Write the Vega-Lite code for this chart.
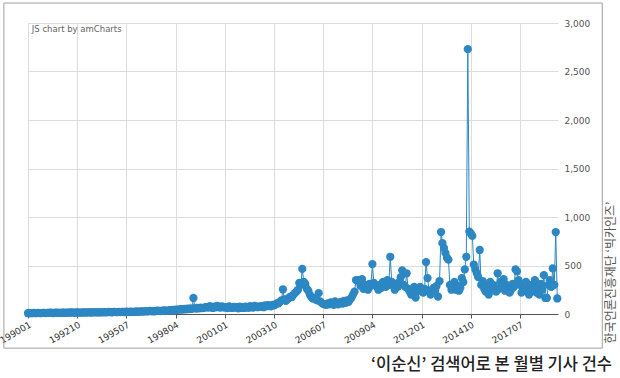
{
"$schema": "https://vega.github.io/schema/vega-lite/v6.json",
"width": 530, "height": 291,
"autosize": {"type": "none"},
"padding": {"left": 28, "top": 23, "right": 62, "bottom": 64},
"background": "white",
"config": {"view": {"stroke": null}, "font": "DejaVu Sans"},
"title": {"text": "‘이순신’ 검색어로 본 월별 기사 건수", "orient": "bottom", "anchor": "end", "frame": "group", "font": "Noto Sans CJK KR", "fontSize": 16.5, "fontWeight": 500, "color": "#222", "dx": 54, "offset": 8},
"datasets": {"d": [
{"m":"1990-01","v":8},{"m":"1990-02","v":9},{"m":"1990-03","v":10},{"m":"1990-04","v":8},{"m":"1990-05","v":11},{"m":"1990-06","v":9},{"m":"1990-07","v":10},{"m":"1990-08","v":12},{"m":"1990-09","v":9},{"m":"1990-10","v":10},{"m":"1990-11","v":11},{"m":"1990-12","v":12},
{"m":"1991-01","v":10},{"m":"1991-02","v":12},{"m":"1991-03","v":11},{"m":"1991-04","v":13},{"m":"1991-05","v":12},{"m":"1991-06","v":10},{"m":"1991-07","v":14},{"m":"1991-08","v":12},{"m":"1991-09","v":13},{"m":"1991-10","v":11},{"m":"1991-11","v":12},{"m":"1991-12","v":14},
{"m":"1992-01","v":13},{"m":"1992-02","v":12},{"m":"1992-03","v":15},{"m":"1992-04","v":14},{"m":"1992-05","v":13},{"m":"1992-06","v":16},{"m":"1992-07","v":14},{"m":"1992-08","v":15},{"m":"1992-09","v":13},{"m":"1992-10","v":17},{"m":"1992-11","v":15},{"m":"1992-12","v":14},
{"m":"1993-01","v":15},{"m":"1993-02","v":17},{"m":"1993-03","v":16},{"m":"1993-04","v":14},{"m":"1993-05","v":18},{"m":"1993-06","v":16},{"m":"1993-07","v":17},{"m":"1993-08","v":15},{"m":"1993-09","v":19},{"m":"1993-10","v":17},{"m":"1993-11","v":16},{"m":"1993-12","v":18},
{"m":"1994-01","v":18},{"m":"1994-02","v":16},{"m":"1994-03","v":19},{"m":"1994-04","v":17},{"m":"1994-05","v":20},{"m":"1994-06","v":18},{"m":"1994-07","v":21},{"m":"1994-08","v":19},{"m":"1994-09","v":17},{"m":"1994-10","v":20},{"m":"1994-11","v":22},{"m":"1994-12","v":19},
{"m":"1995-01","v":20},{"m":"1995-02","v":22},{"m":"1995-03","v":19},{"m":"1995-04","v":21},{"m":"1995-05","v":23},{"m":"1995-06","v":20},{"m":"1995-07","v":24},{"m":"1995-08","v":22},{"m":"1995-09","v":21},{"m":"1995-10","v":25},{"m":"1995-11","v":23},{"m":"1995-12","v":22},
{"m":"1996-01","v":24},{"m":"1996-02","v":26},{"m":"1996-03","v":23},{"m":"1996-04","v":25},{"m":"1996-05","v":28},{"m":"1996-06","v":24},{"m":"1996-07","v":27},{"m":"1996-08","v":30},{"m":"1996-09","v":26},{"m":"1996-10","v":29},{"m":"1996-11","v":31},{"m":"1996-12","v":27},
{"m":"1997-01","v":30},{"m":"1997-02","v":28},{"m":"1997-03","v":33},{"m":"1997-04","v":35},{"m":"1997-05","v":31},{"m":"1997-06","v":29},{"m":"1997-07","v":36},{"m":"1997-08","v":34},{"m":"1997-09","v":38},{"m":"1997-10","v":32},{"m":"1997-11","v":35},{"m":"1997-12","v":40},
{"m":"1998-01","v":38},{"m":"1998-02","v":42},{"m":"1998-03","v":36},{"m":"1998-04","v":45},{"m":"1998-05","v":40},{"m":"1998-06","v":48},{"m":"1998-07","v":44},{"m":"1998-08","v":50},{"m":"1998-09","v":46},{"m":"1998-10","v":52},{"m":"1998-11","v":48},{"m":"1998-12","v":55},
{"m":"1999-01","v":50},{"m":"1999-02","v":58},{"m":"1999-03","v":52},{"m":"1999-04","v":165},{"m":"1999-05","v":60},{"m":"1999-06","v":55},{"m":"1999-07","v":62},{"m":"1999-08","v":58},{"m":"1999-09","v":66},{"m":"1999-10","v":60},{"m":"1999-11","v":64},{"m":"1999-12","v":70},
{"m":"2000-01","v":72},{"m":"2000-02","v":65},{"m":"2000-03","v":80},{"m":"2000-04","v":70},{"m":"2000-05","v":62},{"m":"2000-06","v":75},{"m":"2000-07","v":68},{"m":"2000-08","v":85},{"m":"2000-09","v":72},{"m":"2000-10","v":66},{"m":"2000-11","v":78},{"m":"2000-12","v":70},
{"m":"2001-01","v":65},{"m":"2001-02","v":72},{"m":"2001-03","v":60},{"m":"2001-04","v":78},{"m":"2001-05","v":68},{"m":"2001-06","v":62},{"m":"2001-07","v":74},{"m":"2001-08","v":66},{"m":"2001-09","v":70},{"m":"2001-10","v":58},{"m":"2001-11","v":76},{"m":"2001-12","v":64},
{"m":"2002-01","v":68},{"m":"2002-02","v":62},{"m":"2002-03","v":75},{"m":"2002-04","v":70},{"m":"2002-05","v":64},{"m":"2002-06","v":80},{"m":"2002-07","v":72},{"m":"2002-08","v":66},{"m":"2002-09","v":85},{"m":"2002-10","v":74},{"m":"2002-11","v":70},{"m":"2002-12","v":78},
{"m":"2003-01","v":76},{"m":"2003-02","v":82},{"m":"2003-03","v":70},{"m":"2003-04","v":88},{"m":"2003-05","v":80},{"m":"2003-06","v":92},{"m":"2003-07","v":85},{"m":"2003-08","v":78},{"m":"2003-09","v":95},{"m":"2003-10","v":90},{"m":"2003-11","v":100},{"m":"2003-12","v":110},
{"m":"2004-01","v":110},{"m":"2004-02","v":125},{"m":"2004-03","v":140},{"m":"2004-04","v":255},{"m":"2004-05","v":150},{"m":"2004-06","v":135},{"m":"2004-07","v":155},{"m":"2004-08","v":165},{"m":"2004-09","v":180},{"m":"2004-10","v":175},{"m":"2004-11","v":200},{"m":"2004-12","v":215},
{"m":"2005-01","v":230},{"m":"2005-02","v":250},{"m":"2005-03","v":320},{"m":"2005-04","v":300},{"m":"2005-05","v":465},{"m":"2005-06","v":330},{"m":"2005-07","v":310},{"m":"2005-08","v":260},{"m":"2005-09","v":240},{"m":"2005-10","v":200},{"m":"2005-11","v":175},{"m":"2005-12","v":160},
{"m":"2006-01","v":160},{"m":"2006-02","v":150},{"m":"2006-03","v":140},{"m":"2006-04","v":215},{"m":"2006-05","v":130},{"m":"2006-06","v":115},{"m":"2006-07","v":105},{"m":"2006-08","v":100},{"m":"2006-09","v":95},{"m":"2006-10","v":110},{"m":"2006-11","v":100},{"m":"2006-12","v":120},
{"m":"2007-01","v":105},{"m":"2007-02","v":95},{"m":"2007-03","v":130},{"m":"2007-04","v":110},{"m":"2007-05","v":100},{"m":"2007-06","v":118},{"m":"2007-07","v":125},{"m":"2007-08","v":108},{"m":"2007-09","v":135},{"m":"2007-10","v":115},{"m":"2007-11","v":140},{"m":"2007-12","v":125},
{"m":"2008-01","v":150},{"m":"2008-02","v":170},{"m":"2008-03","v":200},{"m":"2008-04","v":230},{"m":"2008-05","v":350},{"m":"2008-06","v":345},{"m":"2008-07","v":350},{"m":"2008-08","v":290},{"m":"2008-09","v":360},{"m":"2008-10","v":260},{"m":"2008-11","v":300},{"m":"2008-12","v":280},
{"m":"2009-01","v":250},{"m":"2009-02","v":310},{"m":"2009-03","v":290},{"m":"2009-04","v":515},{"m":"2009-05","v":320},{"m":"2009-06","v":300},{"m":"2009-07","v":280},{"m":"2009-08","v":250},{"m":"2009-09","v":300},{"m":"2009-10","v":270},{"m":"2009-11","v":330},{"m":"2009-12","v":310},
{"m":"2010-01","v":280},{"m":"2010-02","v":350},{"m":"2010-03","v":300},{"m":"2010-04","v":590},{"m":"2010-05","v":330},{"m":"2010-06","v":290},{"m":"2010-07","v":250},{"m":"2010-08","v":310},{"m":"2010-09","v":280},{"m":"2010-10","v":330},{"m":"2010-11","v":380},{"m":"2010-12","v":450},
{"m":"2011-01","v":300},{"m":"2011-02","v":280},{"m":"2011-03","v":420},{"m":"2011-04","v":260},{"m":"2011-05","v":230},{"m":"2011-06","v":200},{"m":"2011-07","v":250},{"m":"2011-08","v":280},{"m":"2011-09","v":170},{"m":"2011-10","v":230},{"m":"2011-11","v":260},{"m":"2011-12","v":280},
{"m":"2012-01","v":250},{"m":"2012-02","v":220},{"m":"2012-03","v":260},{"m":"2012-04","v":535},{"m":"2012-05","v":370},{"m":"2012-06","v":240},{"m":"2012-07","v":200},{"m":"2012-08","v":230},{"m":"2012-09","v":270},{"m":"2012-10","v":250},{"m":"2012-11","v":290},{"m":"2012-12","v":180},
{"m":"2013-01","v":340},{"m":"2013-02","v":845},{"m":"2013-03","v":730},{"m":"2013-04","v":680},{"m":"2013-05","v":630},{"m":"2013-06","v":580},{"m":"2013-07","v":560},{"m":"2013-08","v":300},{"m":"2013-09","v":250},{"m":"2013-10","v":270},{"m":"2013-11","v":330},{"m":"2013-12","v":250},
{"m":"2014-01","v":290},{"m":"2014-02","v":240},{"m":"2014-03","v":270},{"m":"2014-04","v":370},{"m":"2014-05","v":330},{"m":"2014-06","v":460},{"m":"2014-07","v":590},{"m":"2014-08","v":2730},{"m":"2014-09","v":850},{"m":"2014-10","v":830},{"m":"2014-11","v":805},{"m":"2014-12","v":510},
{"m":"2015-01","v":460},{"m":"2015-02","v":420},{"m":"2015-03","v":380},{"m":"2015-04","v":660},{"m":"2015-05","v":300},{"m":"2015-06","v":340},{"m":"2015-07","v":260},{"m":"2015-08","v":230},{"m":"2015-09","v":290},{"m":"2015-10","v":200},{"m":"2015-11","v":330},{"m":"2015-12","v":250},
{"m":"2016-01","v":300},{"m":"2016-02","v":270},{"m":"2016-03","v":230},{"m":"2016-04","v":420},{"m":"2016-05","v":260},{"m":"2016-06","v":330},{"m":"2016-07","v":280},{"m":"2016-08","v":360},{"m":"2016-09","v":240},{"m":"2016-10","v":300},{"m":"2016-11","v":270},{"m":"2016-12","v":220},
{"m":"2017-01","v":250},{"m":"2017-02","v":310},{"m":"2017-03","v":280},{"m":"2017-04","v":460},{"m":"2017-05","v":440},{"m":"2017-06","v":350},{"m":"2017-07","v":300},{"m":"2017-08","v":220},{"m":"2017-09","v":260},{"m":"2017-10","v":280},{"m":"2017-11","v":330},{"m":"2017-12","v":240},
{"m":"2018-01","v":200},{"m":"2018-02","v":260},{"m":"2018-03","v":300},{"m":"2018-04","v":240},{"m":"2018-05","v":350},{"m":"2018-06","v":220},{"m":"2018-07","v":280},{"m":"2018-08","v":200},{"m":"2018-09","v":310},{"m":"2018-10","v":250},{"m":"2018-11","v":400},{"m":"2018-12","v":165},
{"m":"2019-01","v":165},{"m":"2019-02","v":300},{"m":"2019-03","v":350},{"m":"2019-04","v":280},{"m":"2019-05","v":470},{"m":"2019-06","v":300},{"m":"2019-07","v":845},{"m":"2019-08","v":160}
]},
"data": {"name": "d"},
"layer": [
{
"data": {"values": [{}]},
"mark": {"type": "rect", "fill": null, "stroke": "#a0a0a0", "strokeWidth": 1, "clip": false},
"encoding": {
"x": {"datum": {"year": 1988, "month": 8, "date": 27, "utc": true}, "type": "temporal"},
"x2": {"datum": {"year": 2022, "month": 2, "date": 5, "utc": true}},
"y": {"datum": 3206, "type": "quantitative"},
"y2": {"datum": -352}
}
},
{
"mark": {"type": "line", "color": "#2c87c3", "strokeWidth": 1},
"encoding": {
"x": {"field": "m", "type": "temporal",
"scale": {"type": "utc", "domain": [{"year": 1990, "month": 1, "date": 1, "utc": true}, {"year": 2019, "month": 8, "date": 16, "utc": true}]},
"axis": {"title": null,
"values": [{"year":1990,"month":1,"date":1,"utc":true},{"year":1992,"month":10,"date":1,"utc":true},{"year":1995,"month":7,"date":1,"utc":true},{"year":1998,"month":4,"date":1,"utc":true},{"year":2001,"month":1,"date":1,"utc":true},{"year":2003,"month":10,"date":1,"utc":true},{"year":2006,"month":7,"date":1,"utc":true},{"year":2009,"month":4,"date":1,"utc":true},{"year":2012,"month":1,"date":1,"utc":true},{"year":2014,"month":10,"date":1,"utc":true},{"year":2017,"month":7,"date":1,"utc":true}],
"labelExpr": "utcFormat(datum.value, '%Y%m')",
"labelAngle": -30, "labelAlign": "right", "labelBaseline": "top", "labelPadding": 2,
"labelFont": "DejaVu Sans", "labelFontSize": 9, "labelColor": "#333",
"labelOverlap": false, "labelFlush": false, "labelBound": false,
"tickSize": 4, "tickColor": "#555", "domainColor": "#555", "domainWidth": 1,
"grid": true, "gridColor": "#dcdcdc", "gridWidth": 1}},
"y": {"field": "v", "type": "quantitative",
"scale": {"domain": [0, 3000], "nice": false},
"axis": {"orient": "right", "values": [0, 500, 1000, 1500, 2000, 2500, 3000], "labelExpr": "format(datum.value, ',.0f')",
"labelFont": "DejaVu Sans", "labelFontSize": 9, "labelColor": "#555", "labelPadding": 6,
"ticks": false, "domain": false, "grid": true, "gridColor": "#dcdcdc", "gridWidth": 1,
"title": "한국언론진흥재단 ‘빅카인즈’", "titleAngle": -90, "titleFont": "Noto Sans CJK KR", "titleFontSize": 12, "titleFontWeight": "normal", "titleColor": "#555",
"titleX": 52, "titleY": 249, "titleAlign": "center", "titleBaseline": "middle"}}
}
},
{
"mark": {"type": "point", "filled": true, "color": "#2c87c3", "opacity": 1, "size": 68},
"encoding": {
"x": {"field": "m", "type": "temporal"},
"y": {"field": "v", "type": "quantitative"}
}
},
{
"data": {"values": [{}]},
"mark": {"type": "text", "text": "JS chart by amCharts", "font": "DejaVu Sans", "fontSize": 8.5, "color": "#666", "align": "left", "baseline": "middle"},
"encoding": {
"x": {"datum": {"year": 1990, "month": 3, "date": 20, "utc": true}, "type": "temporal"},
"y": {"datum": 2935, "type": "quantitative"}
}
}
]
}
